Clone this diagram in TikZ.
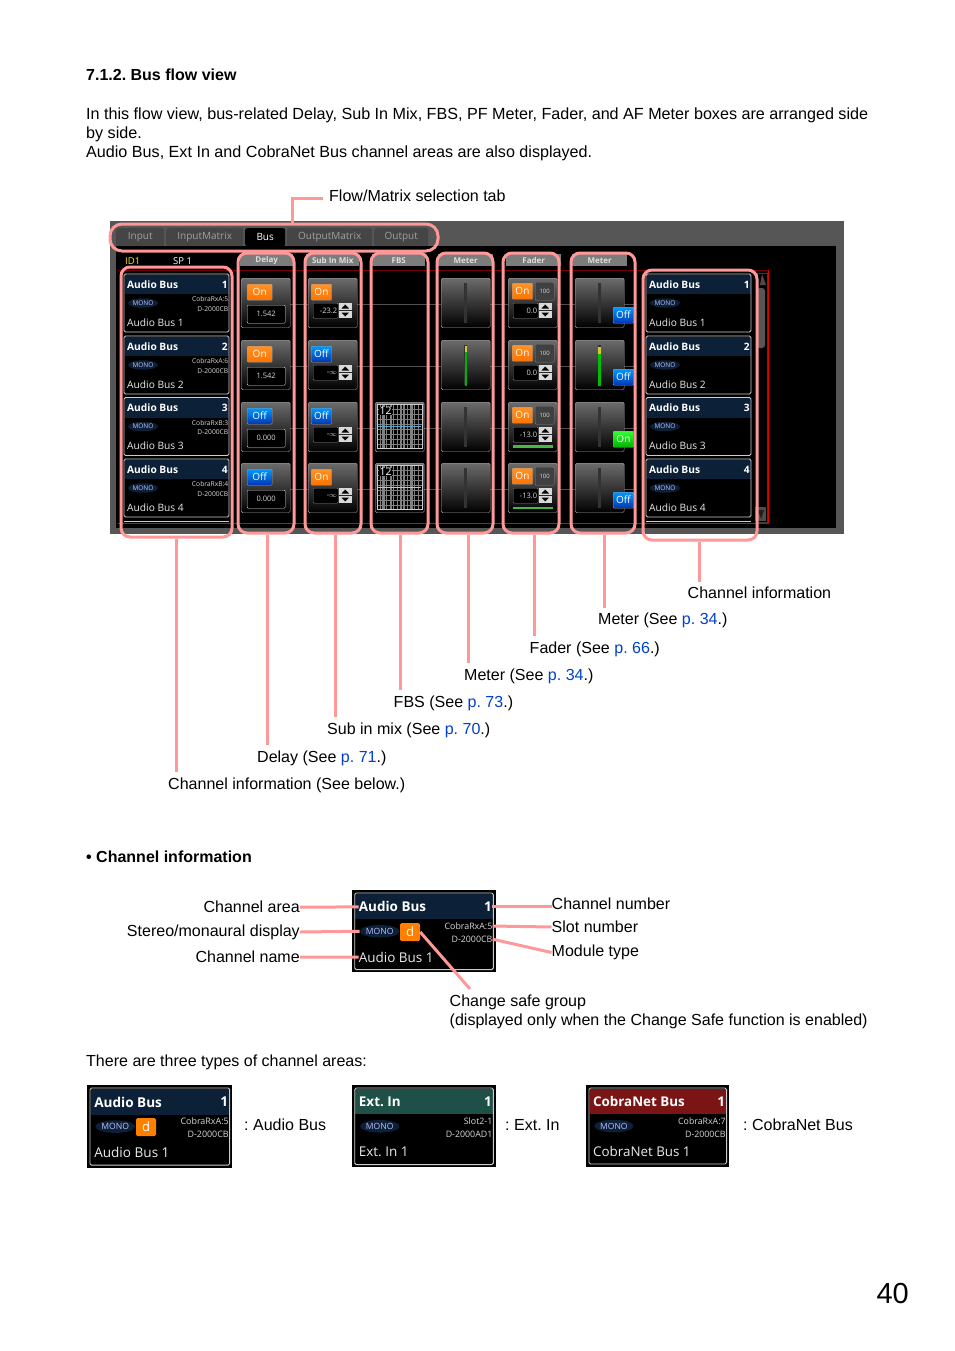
\documentclass[tikz,border=0pt]{standalone}
\usepackage{fontspec}
\setmainfont{Liberation Sans}
\newfontfamily\uifont{Open Sans}
\usetikzlibrary{shapes.geometric}
\frenchspacing

\definecolor{pinkline}{HTML}{FF9999}
\definecolor{linkblue}{HTML}{0040D0}
\definecolor{shellgray}{HTML}{565656}
\definecolor{navyband}{HTML}{0C2038}
\definecolor{tealband}{HTML}{1E5048}
\definecolor{redband}{HTML}{7B1414}
\definecolor{tabgray}{HTML}{454545}
\definecolor{tabtext}{HTML}{A0A0A0}
\definecolor{headgray}{HTML}{7C7C7C}
\definecolor{lineonblack}{HTML}{505050}

\tikzset{
    bodytext/.style={font=\fontsize{16.03}{19}\selectfont, inner sep=0pt, align=left},
    lbl/.style={bodytext, anchor=west},
    lblr/.style={bodytext, anchor=east},
    pinkframe/.style={draw=pinkline, line width=3pt, rounded corners=9pt, inner sep=0pt},
    callout/.style={draw=pinkline, line width=3pt},
    tabbtn/.style={fill=tabgray, rounded corners=2pt, text=tabtext, inner sep=0pt,
        minimum height=18pt, anchor=north west, font=\uifont\fontsize{10}{12}\selectfont},
    headtab/.style={fill=headgray, text=gray!25, inner sep=0pt, minimum height=12pt,
        anchor=north west, font=\uifont\bfseries\fontsize{8}{9}\selectfont},
    panel/.style={draw=gray!70, rounded corners=1.5pt, top color=black!58, bottom color=black,
        minimum width=49pt, minimum height=49.5pt, inner sep=0pt, anchor=north west},
    btn/.style={draw=white!60!black, rounded corners=1pt, text=white, inner sep=0pt, anchor=north west,
        minimum width=20.5pt, minimum height=16pt, font=\uifont\fontsize{10}{12}\selectfont},
    btnOn/.style={btn, top color=orange!85!white, bottom color=orange!90!red},
    btnOff/.style={btn, top color=blue!40!cyan, bottom color=blue!70!cyan!70!black},
    btnMeterOn/.style={btn, top color=green!80!white, bottom color=green!70!black},
    valbox/.style={draw=white!85!black, fill=black, rounded corners=1pt, text=white!85!black, inner sep=0pt,
        anchor=north west, font=\uifont\fontsize{7.5}{9}\selectfont},
    spinval/.style={valbox, draw=gray, minimum width=25pt, minimum height=15pt, text width=23pt, align=right},
    smalltext/.style={text=white!85!black, inner sep=0pt, font=\uifont\fontsize{6.7}{8}\selectfont},
}

% one channel area, drawn at 105 x 58 and then scaled
\newcommand{\chanbox}[9]{
    \begin{scope}[shift={#2}, scale=#3, transform shape]
        \fill[black] (-2,-2) rectangle (107,60);
        \fill[#4] (0.5,0.5) rectangle (104.5,20);
        \draw[white!80!black, line width=0.9pt, rounded corners=1.5pt] (0,0) rectangle (105,58);
        \node (#1title) [anchor=west, inner sep=0pt, text=white, font=\uifont\bfseries\fontsize{10.2}{12}\selectfont] at (3,10.5) {#5};
        \node (#1num) [anchor=east, inner sep=0pt, text=white, font=\uifont\bfseries\fontsize{10.2}{12}\selectfont] at (104,10.5) {#6};
        \node (#1mono) [ellipse, fill=navyband, text=white!75!blue, inner sep=0pt, minimum width=30pt, minimum height=9.5pt,
            font=\uifont\fontsize{6.5}{8}\selectfont] at (19,29) {MONO};
        \node (#1slot) [smalltext, anchor=east] at (104.5,25) {#7};
        \node (#1mod) [smalltext, anchor=east] at (104.5,35) {#8};
        \node (#1name) [anchor=west, inner sep=0pt, text=white!92!black, font=\uifont\fontsize{10.2}{12}\selectfont] at (3,48.5) {#9};
    \end{scope}
}

% up and down arrows beside a value box
\newcommand{\spinner}[2]{
    \fill[white!85!black] (#1,#2) rectangle ++(12.5,7);
    \fill[white!85!black] (#1,#2+8) rectangle ++(12.5,7);
    \fill[black] (#1+2.5,#2+5.5) -- (#1+6.2,#2+1.5) -- (#1+10,#2+5.5) -- cycle;
    \fill[black] (#1+2.5,#2+9.5) -- (#1+6.2,#2+13.5) -- (#1+10,#2+9.5) -- cycle;
}

\begin{document}
\begin{tikzpicture}[x=1pt, y=-1pt]
    \useasboundingbox (0,0) rectangle (954,1351);

    \node (title) [lbl, font=\bfseries\fontsize{16}{19}\selectfont] at (86,75) {7.1.2. Bus flow view};
    \node (intro) [bodytext, anchor=north west, font=\fontsize{16.14}{19}\selectfont] at (86,107.2) {In this flow view, bus-related Delay, Sub In Mix, FBS, PF Meter, Fader, and AF Meter boxes are arranged side\\by side.\\Audio Bus, Ext In and CobraNet Bus channel areas are also displayed.};

    % the screenshot
    \fill[shellgray] (110,221) rectangle (844,534);
    \fill[black] (116,246) rectangle (836,528);
    \node (tabInput) [tabbtn, minimum width=48pt] at (116,228) {Input};
    \node (tabInMatrix) [tabbtn, minimum width=77pt] at (166,228) {InputMatrix};
    \node (tabBus) [tabbtn, minimum width=40pt, fill=black, text=white] at (245,228) {Bus};
    \node (tabOutMatrix) [tabbtn, minimum width=85pt] at (287,228) {OutputMatrix};
    \node (tabOutput) [tabbtn, minimum width=54pt] at (374,228) {Output};
    \node (idText) [anchor=west, inner sep=0pt, text=yellow!90!orange, font=\uifont\fontsize{9.5}{11}\selectfont] at (125,261) {ID1};
    \node (spText) [anchor=west, inner sep=0pt, text=white, font=\uifont\fontsize{9.5}{11}\selectfont] at (173,261) {SP 1};
    \draw[red!45!black, thin] (118,270) -- (768,270);
    \draw[red!90!black, thin] (768,270) -- (768,523) -- (118,523);

    \node (headDelay) [headtab, minimum width=53pt] at (240,254) {Delay};
    \node (headSub) [headtab, minimum width=53pt] at (306,254) {Sub In Mix};
    \node (headFbs) [headtab, minimum width=53pt] at (372,254) {FBS};
    \node (headMeterA) [headtab, minimum width=55pt] at (438,254) {Meter};
    \node (headFader) [headtab, minimum width=55pt] at (506,254) {Fader};
    \node (headMeterB) [headtab, minimum width=55pt] at (572,254) {Meter};

    % lines that join the boxes of one row
    \foreach \ry in {278,340,402,463}{
        \draw[lineonblack, line width=1pt] (290,\ry+26) -- (637,\ry+26);
    }

    % scroll bar
    \draw[gray!45!black] (757,273) rectangle (767,522);
    \fill[gray!60!black] (760,285) -- (762,274) -- (766,285) -- cycle;
    \fill[shellgray, rounded corners=3pt] (757,288) rectangle (765,348);
    \fill[gray!60!black] (755,507) rectangle (766,521);
    \fill[gray!25!black] (758,510) -- (764,510) -- (761,519) -- cycle;

    % channel areas on both sides
    \foreach \i/\ry/\slot in {1/274/CobraRxA:5, 2/336/CobraRxA:6, 3/397.5/CobraRxB:3, 4/459/CobraRxB:4}{
        \chanbox{L\i}{(124,\ry)}{1}{navyband}{Audio Bus}{\i}{\slot}{D-2000CB}{Audio Bus \i}
        \chanbox{R\i}{(646,\ry)}{1}{navyband}{Audio Bus}{\i}{}{}{Audio Bus \i}
    }
    \draw[white!80!black, line width=0.9pt] (124,521) -- (229,521);
    \draw[white!80!black, line width=0.9pt] (646,521) -- (751,521);

    % delay column
    \foreach \r/\ry/\st/\val in {1/278/On/1.542, 2/340/On/1.542, 3/402/Off/0.000, 4/463/Off/0.000}{
        \node (delayPanel\r) [panel] at (241,\ry) {};
        \node (delayBtn\r) [btn\st, minimum width=25pt] at (247,\ry+6) {\st};
        \node (delayVal\r) [valbox, minimum width=38pt, minimum height=18pt] at (247,\ry+27) {\val};
    }
    % sub in mix column
    \foreach \r/\ry/\st/\val in {1/278/On/-23.2, 2/340/Off/-$\infty$, 3/402/Off/-$\infty$, 4/463/On/-$\infty$}{
        \node (subPanel\r) [panel] at (308,\ry) {};
        \node (subBtn\r) [btn\st] at (311,\ry+6) {\st};
        \node (subVal\r) [spinval] at (313,\ry+25) {\val};
        \spinner{339}{\ry+25}
    }
    % fbs column, rows 3 and 4 only
    \foreach \r/\ry/\cl in {3/402/cyan!60!gray, 4/463/yellow!85!black}{
        \node (fbsPanel\r) [panel] at (375,\ry) {};
        \begin{scope}[shift={(377,\ry+2)}]
            \fill[black] (0,0) rectangle (45,44);
            \foreach \gx in {3,5,6,7.5,9,13,14.5,16,20,23,24.5,26,27,30,33,34,35.5,37,41}{
                \draw[white!50!black, line width=0.35pt] (\gx,0) -- (\gx,44);
            }
            \foreach \gy in {5,10,15,20,25,30,35,40}{
                \draw[white!50!black, line width=0.35pt] (0,\gy) -- (45,\gy);
            }
            \draw[\cl, line width=0.8pt] (1,22) -- (44,22);
            \draw[white!80!black, line width=0.8pt] (0,0) rectangle (45,44);
        \end{scope}
        \node (fbsNum\r) [anchor=west, inner sep=0.5pt, fill=black, text=white, font=\uifont\fontsize{10.5}{12}\selectfont] at (379,\ry+9) {12};
    }
    % both meter columns
    \foreach \r/\ry in {1/278,2/340,3/402,4/463}{
        \node (meterPanel\r) [panel] at (441,\ry) {};
        \fill[gray!40!black] (464,\ry+5) rectangle (467,\ry+45);
        \node (outPanel\r) [panel] at (575,\ry) {};
        \fill[gray!40!black] (597.5,\ry+5) rectangle (600.5,\ry+45);
    }
    \fill[yellow!80!black] (464.5,346) rectangle (467,352);
    \fill[green!70!black] (464.5,352) rectangle (467,386);
    \fill[yellow!80!black] (598,347) rectangle (600.5,354);
    \fill[green!75!black] (598,354) rectangle (600.5,386);
    \foreach \r/\ry/\sty/\st in {1/278/btnOff/Off, 2/340/btnOff/Off, 3/402/btnMeterOn/On, 4/463/btnOff/Off}{
        \node (outBtn\r) [\sty] at (613,\ry+29) {\st};
    }
    % fader column
    \foreach \r/\ry/\val in {1/278/0.0, 2/340/0.0, 3/402/-13.0, 4/463/-13.0}{
        \node (faderPanel\r) [panel] at (508,\ry) {};
        \node (faderBtn\r) [btnOn] at (512,\ry+5) {On};
        \node (faderHun\r) [valbox, draw=gray, fill=black!75, minimum width=19pt, minimum height=18pt,
            font=\uifont\fontsize{6}{7}\selectfont] at (535,\ry+4) {100};
        \node (faderVal\r) [spinval] at (513,\ry+25) {\val};
        \spinner{539}{\ry+25}
    }
    \fill[green!45!gray] (513,445) rectangle (553,447.5);
    \fill[green!45!gray] (513,506.5) rectangle (553,509);

    % pink frames and what they point to
    \node (fTabs) [pinkframe, rounded corners=12pt, minimum width=328pt, minimum height=27pt] at (274,237.5) {};
    \node (fChanL) [pinkframe, minimum width=111pt, minimum height=270pt] at (176.5,402) {};
    \node (fDelay) [pinkframe, minimum width=56pt, minimum height=280pt] at (266,393) {};
    \node (fSub) [pinkframe, minimum width=56pt, minimum height=280pt] at (333,393) {};
    \node (fFbs) [pinkframe, minimum width=57pt, minimum height=280pt] at (399.5,393) {};
    \node (fMeterA) [pinkframe, minimum width=56pt, minimum height=280pt] at (465,393) {};
    \node (fFader) [pinkframe, minimum width=56pt, minimum height=280pt] at (531,393) {};
    \node (fMeterB) [pinkframe, minimum width=64pt, minimum height=280pt] at (603,393) {};
    \node (fChanR) [pinkframe, minimum width=114pt, minimum height=270pt] at (700,405) {};

    \node (lFlow) [lbl] at (329,196) {Flow/Matrix selection tab};
    \node (lChanR) [lbl] at (687.5,593) {Channel information};
    \node (lMeterB) [lbl] at (598,620.7) {Meter (See \textcolor{linkblue}{p. 34}.)};
    \node (lFader) [lbl] at (529.5,649.5) {Fader (See \textcolor{linkblue}{p. 66}.)};
    \node (lMeterA) [lbl] at (464,676.5) {Meter (See \textcolor{linkblue}{p. 34}.)};
    \node (lFbs) [lbl] at (393.5,703.5) {FBS (See \textcolor{linkblue}{p. 73}.)};
    \node (lSub) [lbl] at (327,730.5) {Sub in mix (See \textcolor{linkblue}{p. 70}.)};
    \node (lDelay) [lbl] at (257,758.5) {Delay (See \textcolor{linkblue}{p. 71}.)};
    \node (lChanL) [lbl] at (168,785.5) {Channel information (See below.)};

    \draw[callout] (fTabs.north -| 292,0) |- ([yshift=-3pt]lFlow.west -| 323,0);
    \foreach \f/\l/\dx/\gap in {fChanL/lChanL/0/6, fDelay/lDelay/1/6, fSub/lSub/2/6, fFbs/lFbs/1/6,
        fMeterA/lMeterA/3/6, fFader/lFader/3/6, fMeterB/lMeterB/1/5, fChanR/lChanR/-1/5}{
        \draw[callout] ([xshift=\dx pt]\f.south) -- ([xshift=\dx pt, yshift=\gap pt]\f.south |- \l.north);
    }

    % channel information
    \node (chanHead) [lbl, font=\bfseries\fontsize{16}{19}\selectfont] at (86,856.7) {• Channel information};
    \chanbox{big}{(354.7,893)}{1.32}{navyband}{Audio Bus}{1}{CobraRxA:5}{D-2000CB}{Audio Bus 1}
    \node (bigD) [fill=orange, rounded corners=1.5pt, text=white, inner sep=0pt, minimum width=20pt, minimum height=18pt,
        font=\uifont\fontsize{13}{15}\selectfont] at (410,932) {d};
    \node (lArea) [lblr] at (300,907.2) {Channel area};
    \node (lStereo) [lblr] at (300,932) {Stereo/monaural display};
    \node (lName) [lblr] at (300,957) {Channel name};
    \node (lNum) [lbl] at (551.5,904) {Channel number};
    \node (lSlot) [lbl] at (551.5,927) {Slot number};
    \node (lMod) [lbl] at (551.5,952.5) {Module type};
    \node (lSafe) [bodytext, anchor=north west] at (449.5,995) {Change safe group\\(displayed only when the Change Safe function is enabled)};
    \coordinate (safeEnd) at (470,989);
    \draw[callout] (lArea.east) -- (bigtitle.west);
    \draw[callout] (lStereo.east) -- (bigmono.west);
    \draw[callout] (lName.east) -- (bigname.west);
    \draw[callout] (bignum.east) -- (lNum.west |- bignum.east);
    \draw[callout] (bigslot.east) -- (lSlot.west);
    \draw[callout] (bigmod.east) -- (lMod.west);
    \draw[callout] (bigD.east) -- (safeEnd);

    % the three types
    \node (typesText) [lbl] at (86,1062) {There are three types of channel areas:};
    \chanbox{typeA}{(90,1088)}{1.33}{navyband}{Audio Bus}{1}{CobraRxA:5}{D-2000CB}{Audio Bus 1}
    \node (typeAD) [fill=orange, rounded corners=1.5pt, text=white, inner sep=0pt, minimum width=20pt, minimum height=18pt,
        font=\uifont\fontsize{13}{15}\selectfont] at (146,1127) {d};
    \chanbox{typeE}{(354.7,1088)}{1.32}{tealband}{Ext. In}{1}{Slot2-1}{D-2000AD1}{Ext. In 1}
    \chanbox{typeC}{(589,1088)}{1.31}{redband}{CobraNet Bus}{1}{CobraRxA:7}{D-2000CB}{CobraNet Bus 1}
    \node (lTypeA) [lbl] at (244,1125) {: Audio Bus};
    \node (lTypeE) [lbl] at (505,1125) {: Ext. In};
    \node (lTypeC) [lbl] at (743,1125) {: CobraNet Bus};

    \node (pageNum) [anchor=east, inner sep=0pt, font=\fontsize{29}{34}\selectfont] at (909,1293.7) {40};
\end{tikzpicture}
\end{document}
